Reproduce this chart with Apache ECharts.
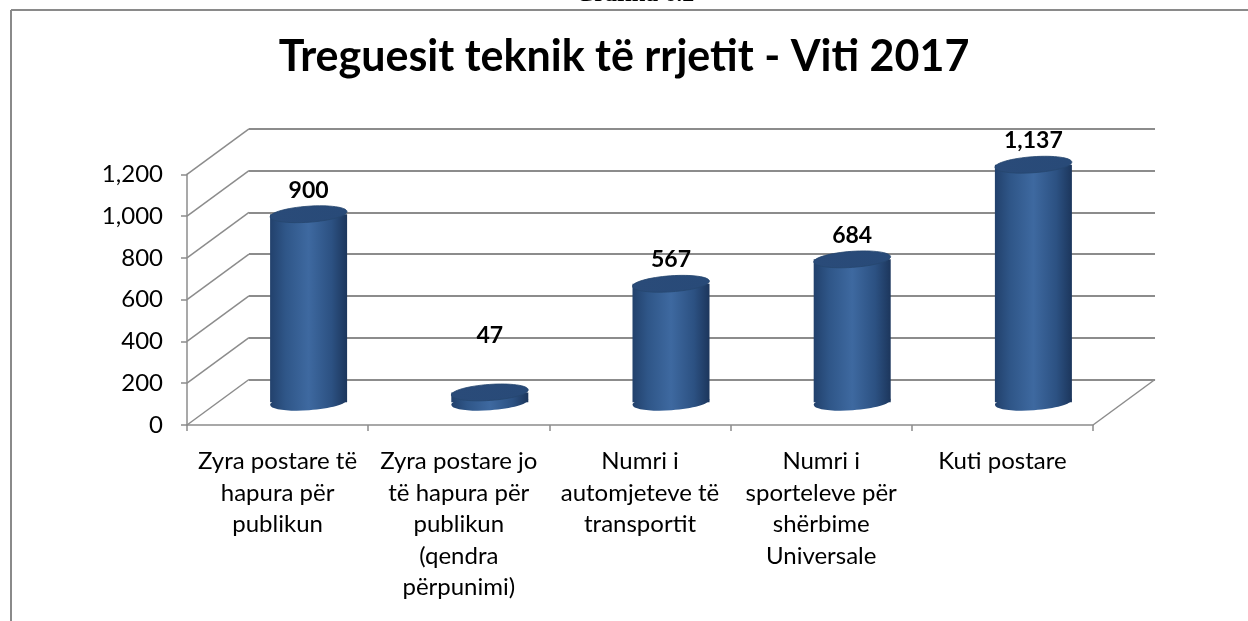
<!DOCTYPE html>
<html>
<head>
<meta charset="utf-8">
<script src="https://cdn.jsdelivr.net/npm/echarts@6/dist/echarts.min.js"></script>
<style>
html,body{margin:0;padding:0;background:#fff;}
#chart{width:1248px;height:621px;}
</style>
</head>
<body>
<div id="chart"></div>
<script>
var categories = [
  'Zyra postare të\nhapura për\npublikun',
  'Zyra postare jo\ntë hapura për\npublikun\n(qendra\npërpunimi)',
  'Numri i\nautomjeteve të\ntransportit',
  'Numri i\nsporteleve për\nshërbime\nUniversale',
  'Kuti postare'
];
var values = [900, 47, 567, 684, 1137];
var tickValues = [0, 200, 400, 600, 800, 1000, 1200];
var titleText = 'Treguesit teknik të rrjetit - Viti 2017';
var captionText = 'Grafiku 6.2';

var DX = 62, DY = -45.5;
var FONT = 'Lato, "Open Sans", sans-serif';
var GRID_COLOR = '#8c8c8c';

function fmt(v){ return String(v).replace(/\B(?=(\d{3})+(?!\d))/g, ','); }

var chart = echarts.init(document.getElementById('chart'));
var option = {
  backgroundColor: '#ffffff',
  animation: false,
  title: {
    text: titleText, left: 'center', top: 31,
    textStyle: { fontFamily: FONT, fontWeight: 'bold', fontSize: 43, color: '#000' }
  },
  graphic: [
    { type: 'line', shape: { x1: 11, y1: 10, x2: 1248, y2: 10 }, style: { stroke: '#8a8a8a', lineWidth: 2 } },
    { type: 'line', shape: { x1: 11, y1: 10, x2: 11, y2: 621 }, style: { stroke: '#8a8a8a', lineWidth: 2 } },
    { type: 'text', x: 635, y: 7, style: { text: captionText, font: 'bold 24px "Liberation Serif", serif', fill: '#000', textAlign: 'center', textVerticalAlign: 'bottom' } }
  ],
  grid: [
    { left: 187, right: 155, top: 174.3, bottom: 196 },
    { left: 249, right: 93, top: 128.8, bottom: 241.5 }
  ],
  xAxis: [
    {
      type: 'category', data: categories, gridIndex: 0, boundaryGap: true,
      axisLine: { show: true, lineStyle: { color: GRID_COLOR, width: 1.5 } },
      axisTick: { show: true, length: 6, lineStyle: { color: GRID_COLOR, width: 1.5 } },
      axisLabel: { interval: 0, margin: 21, fontFamily: FONT, fontSize: 24, lineHeight: 31.5, color: '#000', align: 'center' }
    },
    { type: 'category', data: categories, gridIndex: 1, show: false }
  ],
  yAxis: [
    {
      type: 'value', gridIndex: 0, min: 0, max: 1200, interval: 200,
      axisLine: { show: true, lineStyle: { color: GRID_COLOR, width: 1.5 } },
      axisTick: { show: true, length: 6, lineStyle: { color: GRID_COLOR, width: 1.5 } },
      splitLine: { show: false },
      axisLabel: { margin: 24, fontFamily: FONT, fontSize: 24, color: '#000', formatter: function(v){ return fmt(v); } }
    },
    {
      type: 'value', gridIndex: 1, min: 0, max: 1200, interval: 200,
      axisLine: { show: false }, axisTick: { show: false }, axisLabel: { show: false },
      splitLine: { show: true, lineStyle: { color: GRID_COLOR, width: 2 } }
    }
  ],
  series: [
    {
      type: 'custom', xAxisIndex: 0, yAxisIndex: 0, z: 1, clip: false,
      data: tickValues.map(function(v){ return [0, v]; }),
      renderItem: function(params, api){
        var cs = params.coordSys;
        var v = api.value(1);
        var y = api.coord([0, v])[1];
        var children = [{
          type: 'line',
          shape: { x1: cs.x, y1: y, x2: cs.x + DX, y2: y + DY },
          style: { stroke: GRID_COLOR, lineWidth: 1.5 }
        }];
        if (v === 0) {
          children.push({
            type: 'line',
            shape: { x1: cs.x + cs.width, y1: y, x2: cs.x + cs.width + DX, y2: y + DY },
            style: { stroke: GRID_COLOR, lineWidth: 1.5 }
          });
        }
        return { type: 'group', children: children };
      },
      silent: true
    },
    {
      type: 'custom', xAxisIndex: 0, yAxisIndex: 0, z: 5, clip: false,
      data: values.map(function(v, i){ return [i, v]; }),
      renderItem: function(params, api){
        var idx = api.value(0), val = api.value(1);
        var top = api.coord([idx, val]);
        var base = api.coord([idx, 0]);
        var w = api.size([1, 0])[0] * 0.425;
        var cx = top[0] + DX / 2;
        var ty = top[1] + DY / 2;
        var by = base[1] + DY / 2;
        var ry = 8;
        var rot = 0.07;
        var bodyGrad = new echarts.graphic.LinearGradient(0, 0, 1, 0, [
          { offset: 0, color: '#22416c' },
          { offset: 0.2, color: '#2f5688' },
          { offset: 0.5, color: '#3e69a0' },
          { offset: 0.8, color: '#2c5182' },
          { offset: 1, color: '#1c365c' }
        ]);
        var capGrad = new echarts.graphic.LinearGradient(0, 0, 1, 1, [
          { offset: 0, color: '#2a4b79' },
          { offset: 1, color: '#284a78' }
        ]);
        var labelY = Math.min(ty - 24, by - 67);
        return {
          type: 'group',
          children: [
            { type: 'ellipse', shape: { cx: cx, cy: by, rx: w / 2, ry: ry }, rotation: rot, originX: cx, originY: by, style: { fill: bodyGrad } },
            { type: 'rect', shape: { x: cx - w / 2, y: ty, width: w, height: by - ty }, style: { fill: bodyGrad } },
            { type: 'ellipse', shape: { cx: cx, cy: ty, rx: w / 2, ry: ry }, rotation: rot, originX: cx, originY: ty, style: { fill: capGrad, stroke: '#26466f', lineWidth: 0.8 } },
            { type: 'text', x: cx, y: labelY, style: { text: fmt(val), font: 'bold 23px ' + FONT, fill: '#000', textAlign: 'center', textVerticalAlign: 'middle' } }
          ]
        };
      }
    }
  ]
};
chart.setOption(option);
</script>
</body>
</html>
